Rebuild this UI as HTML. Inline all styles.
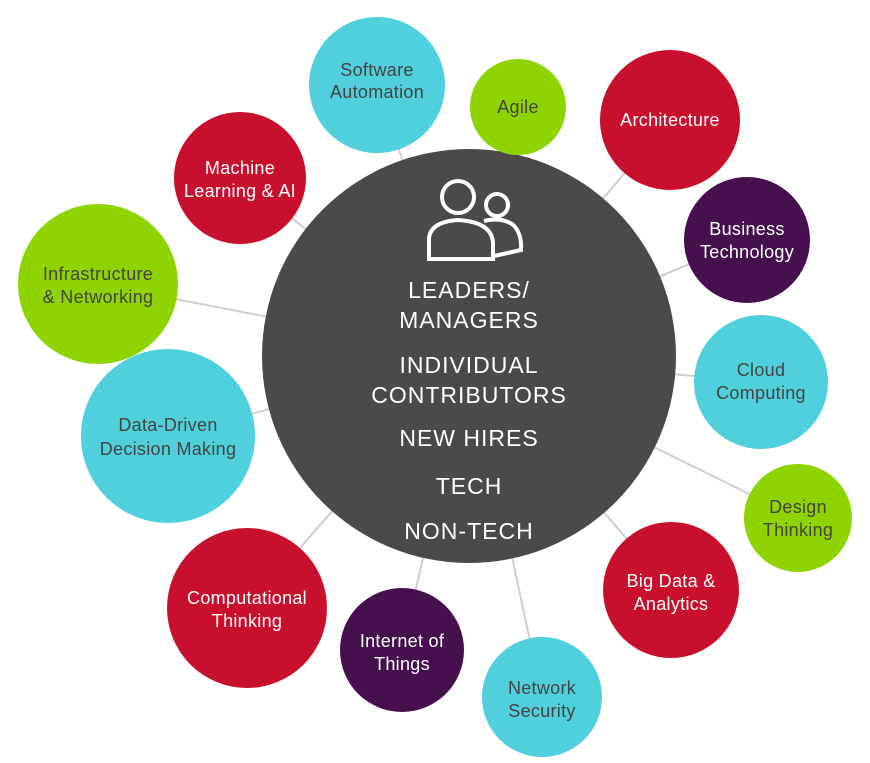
<!DOCTYPE html>
<html><head><meta charset="utf-8"><style>
html,body{margin:0;padding:0;background:#fff;}
svg{display:block}
text{font-family:"Liberation Sans",sans-serif;text-anchor:middle;}
</style></head><body>
<svg width="870" height="763" viewBox="0 0 870 763">
<g stroke="#cfcfcf" stroke-width="2">
<line x1="469" y1="356" x2="377" y2="85"/>
<line x1="469" y1="356" x2="518" y2="107"/>
<line x1="469" y1="356" x2="670" y2="120"/>
<line x1="469" y1="356" x2="747" y2="240"/>
<line x1="469" y1="356" x2="761" y2="382"/>
<line x1="469" y1="356" x2="798" y2="518"/>
<line x1="469" y1="356" x2="671" y2="590"/>
<line x1="469" y1="356" x2="542" y2="697"/>
<line x1="469" y1="356" x2="402" y2="650"/>
<line x1="469" y1="356" x2="247" y2="608"/>
<line x1="469" y1="356" x2="168" y2="436"/>
<line x1="469" y1="356" x2="98" y2="284"/>
<line x1="469" y1="356" x2="240" y2="178"/>
</g>
<circle cx="469" cy="356" r="207" fill="#4b4a48"/>
<g fill="none" stroke="#fff" stroke-width="4">
<circle cx="458" cy="197" r="16"/>
<path d="M429 259 V240 Q429 222 458 220 Q492 222 493 243 V259 Z"/>
<circle cx="497" cy="205" r="11"/>
<path d="M484 221 Q500 217 512 224 Q522 232 521 250 L494 256"/>
</g>
<g fill="#fff" font-size="23" letter-spacing="1">
<text x="469" y="298">LEADERS/</text>
<text x="469" y="328">MANAGERS</text>
<text x="469" y="373">INDIVIDUAL</text>
<text x="469" y="403">CONTRIBUTORS</text>
<text x="469" y="446">NEW HIRES</text>
<text x="469" y="494">TECH</text>
<text x="469" y="539">NON-TECH</text>
</g>
<g font-size="18" letter-spacing="0.3">
<circle cx="377" cy="85" r="68" fill="#50cfdc"/>
<text x="377" y="76" fill="#444">Software</text><text x="377" y="98" fill="#444">Automation</text>
<circle cx="518" cy="107" r="48" fill="#8fd400"/>
<text x="518" y="113" fill="#444">Agile</text>
<circle cx="670" cy="120" r="70" fill="#c8102e"/>
<text x="670" y="126" fill="#fff">Architecture</text>
<circle cx="747" cy="240" r="63" fill="#46104f"/>
<text x="747" y="235" fill="#fff">Business</text><text x="747" y="258" fill="#fff">Technology</text>
<circle cx="761" cy="382" r="67" fill="#50cfdc"/>
<text x="761" y="376" fill="#444">Cloud</text><text x="761" y="399" fill="#444">Computing</text>
<circle cx="798" cy="518" r="54" fill="#8fd400"/>
<text x="798" y="513" fill="#444">Design</text><text x="798" y="536" fill="#444">Thinking</text>
<circle cx="671" cy="590" r="68" fill="#c8102e"/>
<text x="671" y="587" fill="#fff">Big Data &amp;</text><text x="671" y="610" fill="#fff">Analytics</text>
<circle cx="542" cy="697" r="60" fill="#50cfdc"/>
<text x="542" y="694" fill="#444">Network</text><text x="542" y="717" fill="#444">Security</text>
<circle cx="402" cy="650" r="62" fill="#46104f"/>
<text x="402" y="647" fill="#fff">Internet of</text><text x="402" y="670" fill="#fff">Things</text>
<circle cx="247" cy="608" r="80" fill="#c8102e"/>
<text x="247" y="604" fill="#fff">Computational</text><text x="247" y="627" fill="#fff">Thinking</text>
<circle cx="168" cy="436" r="87" fill="#50cfdc"/>
<text x="168" y="431" fill="#444">Data-Driven</text><text x="168" y="455" fill="#444">Decision Making</text>
<circle cx="98" cy="284" r="80" fill="#8fd400"/>
<text x="98" y="280" fill="#444">Infrastructure</text><text x="98" y="303" fill="#444">&amp; Networking</text>
<circle cx="240" cy="178" r="66" fill="#c8102e"/>
<text x="240" y="174" fill="#fff">Machine</text><text x="240" y="197" fill="#fff">Learning &amp; AI</text>
</g>
</svg>
</body></html>
